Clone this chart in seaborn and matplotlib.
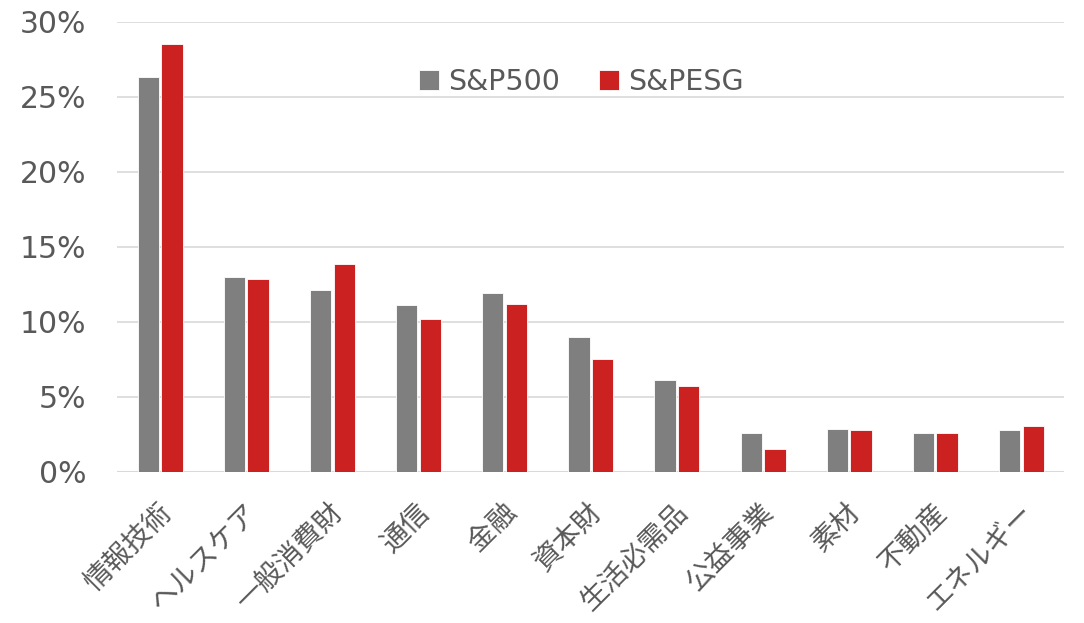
import pandas as pd
import numpy as np
import matplotlib
matplotlib.use("Agg")
import matplotlib.pyplot as plt
import matplotlib.transforms as mtransforms
from matplotlib.ticker import PercentFormatter
import seaborn as sns

# ------------------------
# DATA (sector weights, %)
# ------------------------
sectors = ["情報技術", "ヘルスケア", "一般消費財", "通信", "金融", "資本財",
           "生活必需品", "公益事業", "素材", "不動産", "エネルギー"]
sp500 = [26.3, 13.0, 12.15, 11.15, 11.95, 9.0, 6.1, 2.6, 2.85, 2.6, 2.82]
spesg = [28.55, 12.85, 13.87, 10.17, 11.2, 7.5, 5.7, 1.5, 2.77, 2.6, 3.08]
series_names = ["S&P500", "S&PESG"]
colors = ["#7F7F7F", "#CC2121"]

df = pd.DataFrame({
    "sector": sectors * 2,
    "weight": sp500 + spesg,
    "index": [series_names[0]] * len(sectors) + [series_names[1]] * len(sectors),
})

# ------------------------
# PLOT
# ------------------------
sns.set_style("white")
plt.rcParams["font.family"] = ["DejaVu Sans", "Noto Sans CJK JP"]
TEXT = "#595959"

fig = plt.figure(figsize=(10.84, 6.23), dpi=100)
ax = fig.add_axes([0.108, 0.2424, 0.874, 0.7223])

sns.barplot(data=df, x="sector", y="weight", hue="index", order=sectors,
            hue_order=series_names, palette=colors, width=0.55, gap=0.1,
            saturation=1, edgecolor="white", linewidth=0.6, ax=ax)

ax.set_ylim(0, 30)
ax.set_yticks(np.arange(0, 31, 5))
ax.yaxis.set_major_formatter(PercentFormatter(decimals=0))
ax.set_xlim(-0.5, len(sectors) - 0.5)
ax.grid(axis="y", color="#D9D9D9", linewidth=1.2)
ax.set_axisbelow(True)
for s in ["top", "right", "left", "bottom"]:
    ax.spines[s].set_visible(False)
ax.axhline(0, color="#D9D9D9", linewidth=1.5, zorder=0.5)

ax.set_xlabel("")
ax.set_ylabel("")
ax.tick_params(axis="y", length=0, pad=22, labelsize=21.5, labelcolor=TEXT)
ax.tick_params(axis="x", length=0, pad=26, labelcolor=TEXT)
shift = mtransforms.ScaledTranslation(0.07, 0, fig.dpi_scale_trans)
for lbl in ax.get_xticklabels():
    lbl.set_rotation(45)
    lbl.set_ha("right")
    lbl.set_va("center")
    lbl.set_rotation_mode("anchor")
    lbl.set_fontsize(20)
    lbl.set_family(["Noto Sans CJK JP", "DejaVu Sans"])
    lbl.set_transform(lbl.get_transform() + shift)

leg = ax.legend(loc="upper center", bbox_to_anchor=(0.49, 0.955), ncol=2,
                frameon=False, fontsize=20.5, handlelength=0.7, handleheight=0.7,
                handletextpad=0.3, columnspacing=1.4)
for t in leg.get_texts():
    t.set_color(TEXT)

fig.savefig("out.png", dpi=100)
